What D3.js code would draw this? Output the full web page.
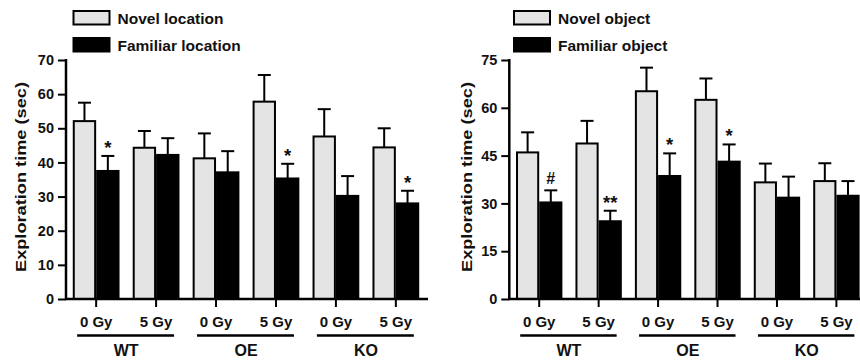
<!DOCTYPE html>
<html>
<head>
<meta charset="utf-8">
<script src="https://cdn.jsdelivr.net/npm/d3@7"></script>
<style>
  html, body { margin: 0; padding: 0; background: #fff; }
  svg { display: block; font-family: "Liberation Sans", Arial, Helvetica, sans-serif; font-weight: bold; }
</style>
</head>
<body>
<svg id="chart" width="860" height="361"></svg>
<script>
// ---- data ----
const genotypes = ["WT", "OE", "KO"];
const doses = ["0 Gy", "5 Gy"];
const pairs = ["WT 0 Gy", "WT 5 Gy", "OE 0 Gy", "OE 5 Gy", "KO 0 Gy", "KO 5 Gy"];
const seriesLoc = ["Novel location", "Familiar location"];
const seriesObj = ["Novel object", "Familiar object"];

const novelLocation = [52.1, 44.3, 41.2, 57.8, 47.6, 44.4];
const novelLocationSem = [5.4, 4.9, 7.3, 7.8, 8.0, 5.6];
const familiarLocation = [37.5, 42.2, 37.1, 35.3, 30.2, 28.0];
const familiarLocationSem = [4.4, 4.9, 6.2, 4.3, 5.8, 3.7];
const locationMarks = ["*", "", "", "*", "", "*"];

const novelObject = [46.0, 48.8, 65.2, 62.5, 36.6, 37.0];
const novelObjectSem = [6.3, 7.1, 7.4, 6.7, 5.9, 5.6];
const familiarObject = [30.3, 24.4, 38.6, 43.1, 31.8, 32.4];
const familiarObjectSem = [3.8, 3.3, 7.1, 5.4, 6.6, 4.6];
const objectMarks = ["#", "**", "*", "*", "", ""];

const locTicks = [0, 10, 20, 30, 40, 50, 60, 70];
const objTicks = [0, 15, 30, 45, 60, 75];

const svg = d3.select("#chart");
const NOVEL_FILL = "#e4e4e4";
const INK = "#111";

function drawPanel(opt) {
  const g = svg.append("g");
  const y = d3.scaleLinear().domain([0, opt.yMax]).range([299, 60]);
  const x = d3.scaleBand().domain(pairs).range([opt.x0, opt.x0 + 6 * opt.step])
    .paddingInner(0.22).paddingOuter(0.113);
  const xs = d3.scaleBand().domain([0, 1]).range([0, x.bandwidth()]);

  // y axis
  const yAxis = d3.axisLeft(y).tickValues(opt.ticks).tickSize(8).tickPadding(4);
  const ya = g.append("g").attr("transform", `translate(${opt.x0},0)`).call(yAxis);
  ya.select(".domain").remove();
  ya.selectAll(".tick line").attr("stroke", "#000").attr("stroke-width", 2);
  ya.selectAll(".tick text").attr("font-size", 14.5).attr("font-weight", "bold")
    .attr("fill", INK).attr("font-family", "Liberation Sans, Arial, sans-serif");
  g.append("line").attr("x1", opt.x0).attr("x2", opt.x0)
    .attr("y1", y(opt.yMax) - 1).attr("y2", y(0) + 1)
    .attr("stroke", "#000").attr("stroke-width", 2.5);

  // bars
  const series = [opt.novel, opt.familiar];
  const sems = [opt.novelSem, opt.familiarSem];
  pairs.forEach((p, i) => {
    [0, 1].forEach(s => {
      const v = series[s][i], e = sems[s][i];
      const bx = x(p) + xs(s), bw = xs.bandwidth();
      const cx = bx + bw / 2;
      // error bar (upward only)
      g.append("line").attr("x1", cx).attr("x2", cx).attr("y1", y(v)).attr("y2", y(v + e))
        .attr("stroke", "#000").attr("stroke-width", 2);
      g.append("line").attr("x1", cx - 6.5).attr("x2", cx + 6.5).attr("y1", y(v + e)).attr("y2", y(v + e))
        .attr("stroke", "#000").attr("stroke-width", 2);
      g.append("rect").attr("x", bx + 1).attr("y", y(v)).attr("width", bw - 2).attr("height", y(0) - y(v))
        .attr("fill", s === 0 ? NOVEL_FILL : "#000").attr("stroke", "#000").attr("stroke-width", 2);
    });
    const m = opt.marks[i];
    if (m) {
      const cx = x(p) + xs(1) + xs.bandwidth() / 2;
      const top = y(opt.familiar[i] + opt.familiarSem[i]);
      const center = top - 12.5;
      g.append("text").attr("x", cx).attr("y", m === "#" ? center + 6 : center + 10.5)
        .attr("text-anchor", "middle").attr("font-size", m === "#" ? 16 : 18.5).attr("fill", INK).text(m);
    }
  });

  // x axis line
  g.append("line").attr("x1", opt.x0 - 1).attr("x2", opt.xEnd).attr("y1", y(0)).attr("y2", y(0))
    .attr("stroke", "#000").attr("stroke-width", 2.5);
  // x ticks at pair centers
  const xa = g.append("g").attr("transform", `translate(0,${y(0)})`)
    .call(d3.axisBottom(x).tickSize(8).tickFormat((d, i) => doses[i % 2]).tickPadding(6));
  xa.select(".domain").remove();
  xa.selectAll(".tick line").attr("stroke", "#000").attr("stroke-width", 2);
  xa.selectAll(".tick text").attr("font-size", 15).attr("font-weight", "bold").attr("fill", INK)
    .attr("font-family", "Liberation Sans, Arial, sans-serif").attr("dy", "0.9em");

  // group underlines + labels
  genotypes.forEach((gname, gi) => {
    const c0 = x(pairs[gi * 2]) + x.bandwidth() / 2;
    const c1 = x(pairs[gi * 2 + 1]) + x.bandwidth() / 2;
    g.append("line").attr("x1", c0 - 19).attr("x2", c1 + 18).attr("y1", 335.5).attr("y2", 335.5)
      .attr("stroke", "#000").attr("stroke-width", 2.5);
    g.append("text").attr("x", (c0 + c1) / 2).attr("y", 356).attr("text-anchor", "middle")
      .attr("font-size", 16).attr("fill", INK).text(gname);
  });

  // y title
  g.append("text").attr("transform", `translate(${opt.titleX},177) rotate(-90)`)
    .attr("text-anchor", "middle").attr("font-size", 15.5).attr("fill", INK)
    .attr("textLength", 190).attr("lengthAdjust", "spacingAndGlyphs")
    .text("Exploration time (sec)");

  // legend
  opt.names.forEach((nm, k) => {
    const ly = k === 0 ? 11 : 38;
    g.append("rect").attr("x", opt.legX).attr("y", ly).attr("width", 36).attr("height", 13.5)
      .attr("fill", k === 0 ? NOVEL_FILL : "#000").attr("stroke", "#000").attr("stroke-width", 2);
    g.append("text").attr("x", opt.legX + 44).attr("y", ly + 13.3).attr("font-size", 15.5)
      .attr("fill", INK).text(nm);
  });
}

drawPanel({
  x0: 66, step: 60, xEnd: 428, yMax: 70, ticks: locTicks,
  novel: novelLocation, novelSem: novelLocationSem,
  familiar: familiarLocation, familiarSem: familiarLocationSem,
  marks: locationMarks, names: seriesLoc, titleX: 26, legX: 73.5
});
drawPanel({
  x0: 509.3, step: 59.5, xEnd: 870, yMax: 75, ticks: objTicks,
  novel: novelObject, novelSem: novelObjectSem,
  familiar: familiarObject, familiarSem: familiarObjectSem,
  marks: objectMarks, names: seriesObj, titleX: 471.5, legX: 514
});
</script>
</body>
</html>
